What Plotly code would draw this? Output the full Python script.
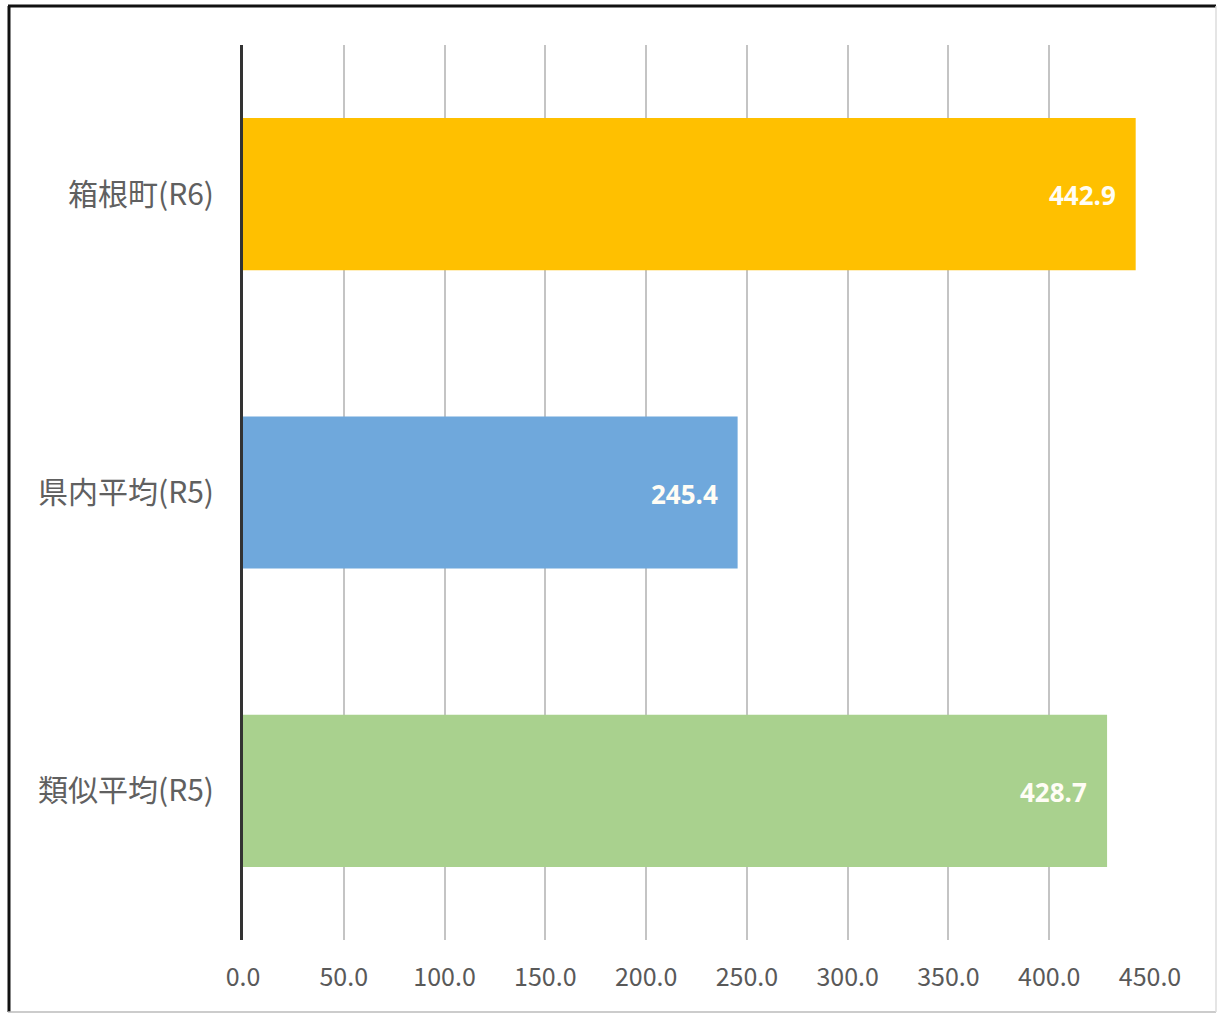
import plotly.graph_objects as go

categories = ["箱根町(R6)", "県内平均(R5)", "類似平均(R5)"]
values = [442.9, 245.4, 428.7]
colors = ["#FFC000", "#6FA8DC", "#A9D18E"]
x_ticks = [0, 50, 100, 150, 200, 250, 300, 350, 400, 450]
x_tick_labels = ["0.0", "50.0", "100.0", "150.0", "200.0", "250.0", "300.0", "350.0", "400.0", "450.0"]

W, H = 1218, 1014
L, R, T, B = 243, 68, 45, 74
pw, ph = W - L - R, H - T - B

fig = go.Figure(go.Bar(
    x=values, y=categories, orientation="h",
    marker=dict(color=colors, line=dict(width=0)),
    hoverinfo="skip",
))

for c, v in zip(categories, values):
    fig.add_annotation(
        x=v, y=c, xref="x", yref="y", text=f"{v:.1f}", showarrow=False,
        xanchor="right", xshift=-18, yshift=-1,
        font=dict(color="#FFFDF5", size=26, family="Noto Sans, Open Sans, sans-serif", weight="bold"),
    )

def px_x(p):
    return (p - L) / pw

def px_y(p):
    return (H - B - p) / ph

shapes = [
    dict(type="line", xref="paper", yref="paper", x0=px_x(8), x1=px_x(1216), y0=px_y(6), y1=px_y(6),
         line=dict(color="#111111", width=3)),
    dict(type="line", xref="paper", yref="paper", x0=px_x(9), x1=px_x(9), y0=px_y(6), y1=px_y(1012),
         line=dict(color="#111111", width=3)),
    dict(type="line", xref="paper", yref="paper", x0=px_x(8), x1=px_x(1216), y0=px_y(1012), y1=px_y(1012),
         line=dict(color="#BBBBBB", width=1.5)),
    dict(type="line", xref="paper", yref="paper", x0=px_x(1216), x1=px_x(1216), y0=px_y(6), y1=px_y(1012),
         line=dict(color="#DDDDDD", width=1.5)),
]

fig.update_layout(
    width=W, height=H,
    margin=dict(l=L, r=R, t=T, b=B, autoexpand=False),
    paper_bgcolor="white", plot_bgcolor="white",
    bargap=0.49,
    showlegend=False,
    shapes=shapes,
    xaxis=dict(
        range=[0, 450], tickvals=x_ticks, ticktext=x_tick_labels,
        showgrid=True, gridcolor="#C4C4C4", gridwidth=2,
        zeroline=False, showline=False,
        tickfont=dict(size=25, color="#595959", family="Noto Sans CJK JP, Noto Sans, sans-serif"),
        ticklabelstandoff=20,
    ),
    yaxis=dict(
        categoryorder="array", categoryarray=categories, autorange="reversed",
        showline=True, linecolor="#333333", linewidth=3,
        showgrid=False, zeroline=False,
        tickfont=dict(size=30, color="#606060", family="Noto Sans CJK JP, sans-serif"),
        ticklabelstandoff=20,
    ),
)

fig.write_html("out.html", config={"displayModeBar": False},
               post_script="document.body.style.margin='0px';")
